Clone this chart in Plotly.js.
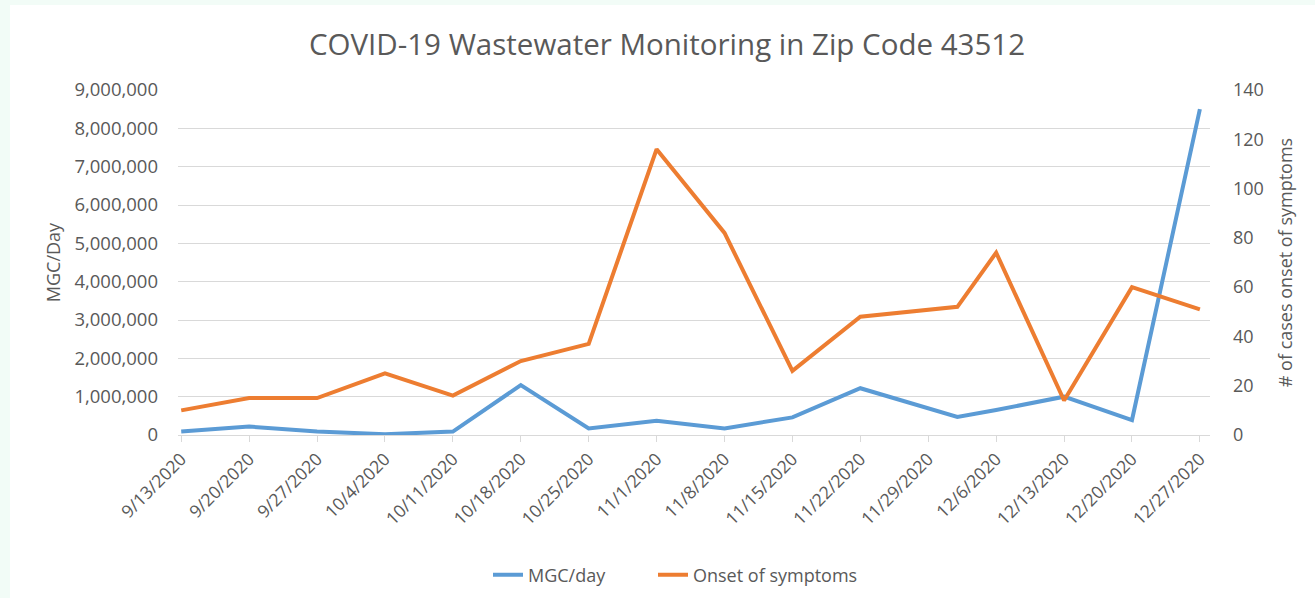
<!DOCTYPE html>
<html>
<head>
<meta charset="utf-8">
<script src="https://cdn.plot.ly/plotly-3.0.1.min.js"></script>
<style>
  html, body { margin: 0; padding: 0; background: #f2fcf7; width: 1315px; height: 598px; overflow: hidden; }
  #chart { position: absolute; left: 10px; top: 5px; width: 1305px; height: 593px; background: #ffffff; }
</style>
</head>
<body>
<div id="chart"></div>
<script>
// Data
const dates = ["2020-09-13","2020-09-20","2020-09-27","2020-10-04","2020-10-11","2020-10-18","2020-10-25",
               "2020-11-01","2020-11-08","2020-11-15","2020-11-22","2020-12-02","2020-12-06","2020-12-13",
               "2020-12-20","2020-12-27"];
const mgcPerDay = [90000, 220000, 90000, 20000, 90000, 1300000, 170000,
                   370000, 170000, 460000, 1220000, 470000, 650000, 1000000,
                   390000, 8500000];
const onsetOfSymptoms = [10, 15, 15, 25, 16, 30, 37,
                         116, 82, 26, 48, 52, 74, 14,
                         60, 51];

const titleText = "COVID-19 Wastewater Monitoring in Zip Code 43512";
const leftAxisTitle = "MGC/Day";
const rightAxisTitle = "# of cases onset of symptoms";
const seriesNames = ["MGC/day", "Onset of symptoms"];

const FONT = "Open Sans, Liberation Sans, sans-serif";
const GREY = "#595959";
const W = 1305, H = 593;

const traces = [
  {
    x: dates, y: mgcPerDay, name: seriesNames[0], type: "scatter", mode: "lines",
    line: { color: "#5B9BD5", width: 4, shape: "linear" }, yaxis: "y", legend: "legend"
  },
  {
    x: dates, y: onsetOfSymptoms, name: seriesNames[1], type: "scatter", mode: "lines",
    line: { color: "#ED7D31", width: 4, shape: "linear" }, yaxis: "y2", legend: "legend2"
  }
];

const legendCommon = {
  orientation: "h", xref: "container", xanchor: "left",
  yref: "container", y: 1 - 570 / H, yanchor: "middle",
  font: { family: FONT, size: 18, color: GREY },
  bgcolor: "rgba(0,0,0,0)"
};

const layout = {
  width: W, height: H,
  paper_bgcolor: "#ffffff", plot_bgcolor: "#ffffff",
  margin: { l: 168, r: 105, t: 85, b: 163 },
  font: { family: FONT, color: GREY, size: 18 },
  title: {
    text: titleText, font: { family: FONT, size: 29.5, color: GREY },
    x: (667 - 10) / W, xref: "container", xanchor: "center",
    y: 1 - 40 / H, yref: "container", yanchor: "middle"
  },
  showlegend: true,
  legend: Object.assign({}, legendCommon, { x: (488 - 10) / W }),
  legend2: Object.assign({}, legendCommon, { x: (653 - 10) / W }),
  xaxis: {
    type: "date", automargin: false,
    range: ["2020-09-12 16:00", "2020-12-28 01:00"],
    tick0: "2020-09-13", dtick: 7 * 86400000,
    tickformat: "%-m/%-d/%Y", tickangle: -45,
    showgrid: false, zeroline: false,
    showline: true, linecolor: "#d9d9d9", linewidth: 1,
    ticks: "outside", ticklen: 6, tickcolor: "#d9d9d9",
    tickfont: { family: FONT, size: 17.5, color: GREY }
  },
  yaxis: {
    automargin: false,
    range: [0, 9000000], dtick: 1000000, tickformat: ",d",
    showgrid: true, gridcolor: "#d9d9d9", gridwidth: 1,
    zeroline: false, showline: false, ticks: "",
    ticklabelstandoff: 19,
    tickfont: { family: FONT, size: 18.5, color: GREY },
    title: { text: leftAxisTitle, font: { family: FONT, size: 18, color: GREY }, standoff: 9 }
  },
  yaxis2: {
    automargin: false,
    overlaying: "y", side: "right",
    range: [0, 140], dtick: 20,
    showgrid: false, zeroline: false, showline: false, ticks: "",
    ticklabelstandoff: 22,
    tickfont: { family: FONT, size: 18, color: GREY },
    title: { text: rightAxisTitle, font: { family: FONT, size: 18, color: GREY }, standoff: 16 }
  }
};

Plotly.newPlot("chart", traces, layout, { displayModeBar: false, staticPlot: true });
</script>
</body>
</html>
